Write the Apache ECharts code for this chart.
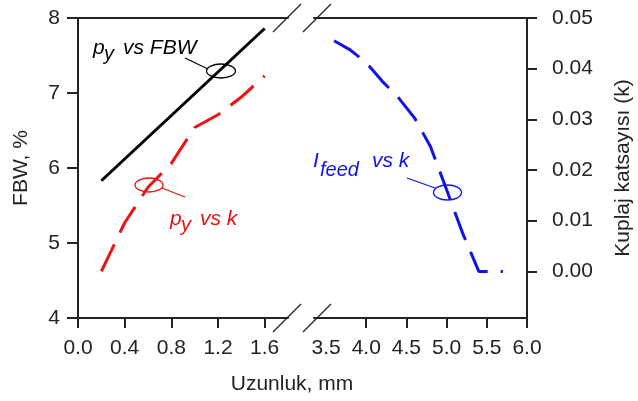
<!DOCTYPE html>
<html><head><meta charset="utf-8">
<script src="https://cdn.jsdelivr.net/npm/echarts@6/dist/echarts.min.js"></script>
<style>html,body{margin:0;padding:0;background:#fff}#c{width:638px;height:401px}</style>
</head><body><div id="c"></div>
<script>
// ---- data ----
const pyX = [0.2, 0.4, 0.6, 0.8, 1.0, 1.2, 1.4, 1.6];
const fbwValues = [5.83, 6.12, 6.41, 6.70, 6.99, 7.28, 7.57, 7.86];
const kVsPy = [0.0, 0.0096, 0.0166, 0.0213, 0.0284, 0.0309, 0.0344, 0.0386];
const feedX = [3.6, 3.8, 4.0, 4.2, 4.4, 4.6, 4.8, 5.0, 5.2, 5.4, 5.7];
const kVsFeed = [0.0455, 0.0437, 0.0412, 0.0375, 0.0343, 0.0303, 0.0246, 0.0161, 0.0075, 0.0, 0.0];
const leftXTicks = [0.0, 0.4, 0.8, 1.2, 1.6];
const rightXLabels = [3.5, 4.0, 4.5, 5.0, 5.5, 6.0];
const rightXTicks = [4.0, 4.5, 5.0, 5.5, 6.0];
const kTicks = [0.00, 0.01, 0.02, 0.03, 0.04, 0.05];

const FONT = 'Liberation Sans, Arial, sans-serif';
const AX = '#222';
const RED = '#ee1111';
const BLUE = '#1111ee';

function zip(a, b) { return a.map((v, i) => [v, b[i]]); }

const chart = echarts.init(document.getElementById('c'), null, {renderer: 'canvas'});

const lineAx = {show: true, onZero: false, lineStyle: {color: AX, width: 2}};
const lbl = {color: AX, fontSize: 21, fontFamily: FONT};

chart.setOption({
  animation: false,
  backgroundColor: '#fff',
  grid: [
    {left: 78, top: 18, width: 210, height: 300},
    {left: 314, top: 18, width: 213, height: 300}
  ],
  xAxis: [
    {type: 'value', gridIndex: 0, position: 'bottom', min: 0, max: 1.8,
     axisLine: lineAx, splitLine: {show: false},
     axisTick: {show: true, length: 10, customValues: leftXTicks, lineStyle: {color: AX, width: 2}},
     axisLabel: Object.assign({}, lbl, {margin: 20, customValues: leftXTicks, formatter: v => v.toFixed(1)})},
    {type: 'value', gridIndex: 0, position: 'top', min: 0, max: 1.8,
     axisLine: lineAx, splitLine: {show: false}, axisTick: {show: false}, axisLabel: {show: false}},
    {type: 'value', gridIndex: 1, position: 'bottom', min: 3.35, max: 6.0,
     axisLine: lineAx, splitLine: {show: false},
     axisTick: {show: true, length: 10, customValues: rightXTicks, lineStyle: {color: AX, width: 2}},
     axisLabel: Object.assign({}, lbl, {margin: 20, customValues: rightXLabels, formatter: v => v.toFixed(1)})},
    {type: 'value', gridIndex: 1, position: 'top', min: 3.35, max: 6.0,
     axisLine: lineAx, splitLine: {show: false}, axisTick: {show: false}, axisLabel: {show: false}}
  ],
  yAxis: [
    {type: 'value', gridIndex: 0, position: 'left', min: 4, max: 8, interval: 1,
     axisLine: lineAx, splitLine: {show: false},
     axisTick: {show: true, length: 11, lineStyle: {color: AX, width: 2}},
     axisLabel: Object.assign({}, lbl, {margin: 18}),
     name: 'FBW, %', nameLocation: 'middle', nameGap: 46, nameRotate: 90,
     nameTextStyle: {color: AX, fontSize: 21, fontFamily: FONT}},
    {type: 'value', gridIndex: 0, position: 'right', min: -0.0092, max: 0.05, show: false,
     splitLine: {show: false}},
    {type: 'value', gridIndex: 1, position: 'right', min: -0.0092, max: 0.05,
     axisLine: lineAx, splitLine: {show: false},
     axisTick: {show: true, length: 10, customValues: kTicks, lineStyle: {color: AX, width: 2}},
     axisLabel: Object.assign({}, lbl, {margin: 25, customValues: kTicks, formatter: v => v.toFixed(2)}),
     name: 'Kuplaj katsayısı (k)', nameLocation: 'middle', nameGap: 86, nameRotate: 90,
     nameTextStyle: {color: AX, fontSize: 21, fontFamily: FONT}}
  ],
  series: [
    {type: 'line', xAxisIndex: 0, yAxisIndex: 0, data: zip(pyX, fbwValues), symbol: 'none',
     lineStyle: {color: '#000', width: 3}},
    {type: 'line', xAxisIndex: 0, yAxisIndex: 1, data: zip(pyX, kVsPy), symbol: 'none',
     lineStyle: {color: RED, width: 3, type: [30, 13]}},
    {type: 'line', xAxisIndex: 2, yAxisIndex: 2, data: zip(feedX, kVsFeed), symbol: 'none',
     lineStyle: {color: BLUE, width: 3, type: [30, 13]}}
  ],
  graphic: [
    // axis break marks
    {type: 'line', shape: {x1: 273, y1: 32, x2: 301, y2: 4}, style: {stroke: AX, lineWidth: 1.3}, z: 100},
    {type: 'line', shape: {x1: 303, y1: 32, x2: 331, y2: 4}, style: {stroke: AX, lineWidth: 1.3}, z: 100},
    {type: 'line', shape: {x1: 273, y1: 332, x2: 301, y2: 304}, style: {stroke: AX, lineWidth: 1.3}, z: 100},
    {type: 'line', shape: {x1: 303, y1: 332, x2: 331, y2: 304}, style: {stroke: AX, lineWidth: 1.3}, z: 100},
    // x axis name
    {type: 'text', x: 292, y: 384, style: {text: 'Uzunluk, mm', fill: AX, font: '21px ' + FONT, textAlign: 'center', textVerticalAlign: 'middle'}},
    // annotation: py vs FBW
    {type: 'text', x: 93, y: 48, style: {text: 'p', fill: '#000', font: 'italic 21px ' + FONT, textAlign: 'left', textVerticalAlign: 'middle'}},
    {type: 'text', x: 104, y: 54, style: {text: 'y', fill: '#000', font: 'italic 20px ' + FONT, textAlign: 'left', textVerticalAlign: 'middle'}},
    {type: 'text', x: 123, y: 48, style: {text: 'vs FBW', fill: '#000', font: 'italic 21px ' + FONT, textAlign: 'left', textVerticalAlign: 'middle'}},
    {type: 'line', shape: {x1: 185, y1: 58, x2: 208, y2: 69}, style: {stroke: '#000', lineWidth: 1.2}},
    {type: 'ellipse', shape: {cx: 221, cy: 71, rx: 14.5, ry: 7}, style: {fill: 'none', stroke: '#000', lineWidth: 1.3}},
    // annotation: py vs k
    {type: 'text', x: 170, y: 219, style: {text: 'p', fill: RED, font: 'italic 21px ' + FONT, textAlign: 'left', textVerticalAlign: 'middle'}},
    {type: 'text', x: 181, y: 225, style: {text: 'y', fill: RED, font: 'italic 20px ' + FONT, textAlign: 'left', textVerticalAlign: 'middle'}},
    {type: 'text', x: 200, y: 219, style: {text: 'vs k', fill: RED, font: 'italic 21px ' + FONT, textAlign: 'left', textVerticalAlign: 'middle'}},
    {type: 'line', shape: {x1: 162, y1: 188, x2: 185, y2: 197}, style: {stroke: RED, lineWidth: 1.2}},
    {type: 'ellipse', shape: {cx: 149, cy: 185, rx: 14, ry: 7}, style: {fill: 'none', stroke: RED, lineWidth: 1.3}},
    // annotation: Ifeed vs k
    {type: 'text', x: 313, y: 161, style: {text: 'I', fill: BLUE, font: 'italic 21px ' + FONT, textAlign: 'left', textVerticalAlign: 'middle'}},
    {type: 'text', x: 320, y: 170, style: {text: 'feed', fill: BLUE, font: 'italic 20px ' + FONT, textAlign: 'left', textVerticalAlign: 'middle'}},
    {type: 'text', x: 372, y: 161, style: {text: 'vs k', fill: BLUE, font: 'italic 21px ' + FONT, textAlign: 'left', textVerticalAlign: 'middle'}},
    {type: 'line', shape: {x1: 407, y1: 178, x2: 435, y2: 188}, style: {stroke: BLUE, lineWidth: 1.2}},
    {type: 'ellipse', shape: {cx: 447.5, cy: 192.5, rx: 14, ry: 7.5}, style: {fill: 'none', stroke: BLUE, lineWidth: 1.3}}
  ]
});
</script>
</body></html>
